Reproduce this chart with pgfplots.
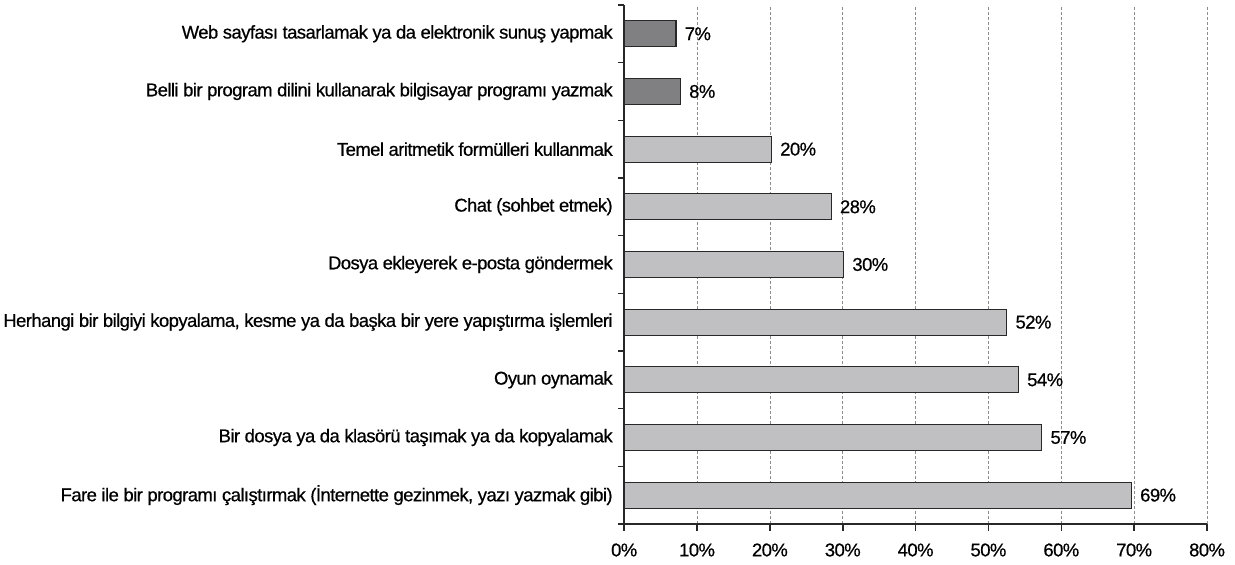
\documentclass[border=0pt]{standalone}
\usepackage{fontspec}
\setmainfont{Liberation Sans}[LetterSpace=-3, FakeBold=0.6]
\usepackage{pgfplots}
\pgfplotsset{compat=1.18}
\usepackage{pgfplotstable}
\definecolor{darkbar}{RGB}{128,128,130}
\definecolor{lightbar}{RGB}{192,192,194}
\definecolor{axcol}{RGB}{40,40,40}

\pgfplotstableread[col sep=comma]{
y,x,lab
8,7.1,7
7,7.7,8
}\darktab
\pgfplotstableread[col sep=comma]{
y,x,lab
6,20.2,20
5,28.4,28
4,30.1,30
3,52.5,52
2,54.1,54
1,57.3,57
0,69.6,69
}\lighttab

\begin{document}
\begin{tikzpicture}
\begin{axis}[
  scale only axis, width=584bp, height=520bp,
  xbar, bar width=26bp, bar shift=0pt,
  xmin=0, xmax=80, ymin=-0.5, ymax=8.5,
  axis x line*=bottom, axis y line*=left,
  axis line style={line width=1.8bp, axcol},
  xtick={0,10,...,80},
  xticklabels={0\%,10\%,20\%,30\%,40\%,50\%,60\%,70\%,80\%},
  ytick={0,...,8},
  yticklabels={
    {Fare ile bir programı çalıştırmak (İnternette gezinmek, yazı yazmak gibi)},
    {Bir dosya ya da klasörü taşımak ya da kopyalamak},
    {Oyun oynamak},
    {Herhangi bir bilgiyi kopyalama, kesme ya da başka bir yere yapıştırma işlemleri},
    {Dosya ekleyerek e-posta göndermek},
    {Chat (sohbet etmek)},
    {Temel aritmetik formülleri kullanmak},
    {Belli bir program dilini kullanarak bilgisayar programı yazmak},
    {Web sayfası tasarlamak ya da elektronik sunuş yapmak}},
  minor ytick={-0.5,0.5,...,8.5},
  tick align=outside,
  major tick length=7bp, minor tick length=6bp,
  major y tick style={draw=none},
  tick style={line width=1.6bp, axcol},
  xmajorgrids,
  major x grid style={dashed, line width=0.8bp, black!45, dash pattern=on 3bp off 2bp},
  ticklabel style={font=\fontsize{18.5bp}{21bp}\selectfont},
  yticklabel style={xshift=-1bp},
  xticklabel style={yshift=-9bp},
  point meta=explicit symbolic,
  nodes near coords={\pgfplotspointmeta\%},
  every node near coord/.append style={font=\fontsize{18.5bp}{21bp}\selectfont, anchor=west, xshift=5bp},
  clip=false,
]
\addplot[fill=darkbar, draw=axcol, line width=1.2bp] table[x=x, y=y, meta=lab] {\darktab};
\addplot[fill=lightbar, draw=axcol, line width=1.2bp] table[x=x, y=y, meta=lab] {\lighttab};
\coordinate (o) at (rel axis cs:0,0);
\coordinate (t) at (rel axis cs:1,1);
\end{axis}
\path ([xshift=-623bp,yshift=-41bp]o) rectangle ([xshift=28bp,yshift=5bp]t);
\end{tikzpicture}
\end{document}
